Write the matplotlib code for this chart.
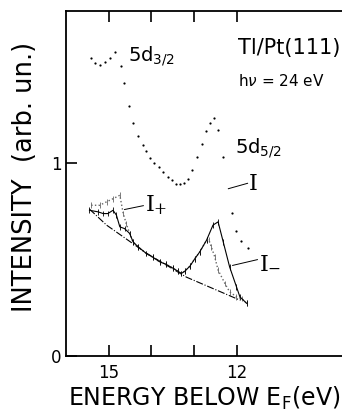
import matplotlib
matplotlib.use("Agg")
import matplotlib.pyplot as plt

plt.rcParams['font.family'] = ['DejaVu Sans']

# total intensity I (dotted)
e_total = [15.42, 15.33, 15.21, 15.09, 14.98, 14.86, 14.72, 14.65, 14.53, 14.44,
           14.32, 14.20, 14.13, 14.04, 13.95, 13.83, 13.74, 13.62, 13.52, 13.43,
           13.34, 13.24, 13.15, 13.06, 12.94, 12.82, 12.73, 12.63, 12.54, 12.45,
           12.33, 12.12, 12.03, 11.91, 11.74]
i_total = [1.544, 1.518, 1.508, 1.523, 1.544, 1.575, 1.503, 1.415, 1.295, 1.207,
           1.140, 1.093, 1.062, 1.026, 1.000, 0.979, 0.953, 0.927, 0.912, 0.891,
           0.891, 0.896, 0.917, 0.964, 1.034, 1.098, 1.166, 1.207, 1.233, 1.171,
           1.031, 0.741, 0.648, 0.596, 0.560]

# I_minus (solid)
e_minus = [15.45, 15.25, 15.13, 15.02, 14.90, 14.82, 14.74, 14.63, 14.51, 14.43,
           14.31, 14.12, 13.97, 13.81, 13.67, 13.50, 13.38, 13.30, 13.22, 13.10,
           12.99, 12.87, 12.71, 12.56, 12.44, 12.32, 12.17, 12.01, 11.93, 11.77]
i_minus = [0.756, 0.748, 0.739, 0.739, 0.756, 0.731, 0.670, 0.661, 0.636, 0.592,
           0.566, 0.532, 0.513, 0.489, 0.477, 0.456, 0.440, 0.428, 0.440, 0.466,
           0.503, 0.540, 0.601, 0.679, 0.696, 0.592, 0.462, 0.359, 0.307, 0.273]

# I_plus (dotted grey)
e_plus = [15.41, 15.21, 15.05, 14.90, 14.74, 14.66, 14.59, 14.51, 14.43, 14.31,
          14.12, 13.97, 13.81, 13.67, 13.50, 13.38, 13.30, 13.22, 13.10, 12.99,
          12.87, 12.71, 12.66, 12.60, 12.52, 12.44, 12.28, 12.17, 12.01, 11.89, 11.77]
i_plus = [0.782, 0.782, 0.800, 0.816, 0.834, 0.739, 0.687, 0.636, 0.592, 0.566,
          0.532, 0.513, 0.489, 0.477, 0.456, 0.440, 0.428, 0.440, 0.466, 0.503,
          0.540, 0.601, 0.605, 0.567, 0.515, 0.446, 0.376, 0.333, 0.307, 0.298, 0.273]

# background (dash-dot)
e_bg = [15.45, 15.05, 14.12, 13.18, 11.93]
i_bg = [0.762, 0.679, 0.534, 0.409, 0.290]

fig = plt.figure(figsize=(3.42, 4.2), dpi=100)
ax = fig.add_axes([66 / 342, 1 - 356 / 420, 1 - 66 / 342, (356 - 11) / 420])

ax.plot(e_total, i_total, 'o', ms=1.6, color='black', mec='none')
ax.errorbar(e_plus, i_plus, yerr=0.015, fmt=':', color='#666666', lw=1.0,
            elinewidth=0.6, capsize=0)
ax.errorbar(e_minus, i_minus, yerr=0.015, fmt='-', color='black', lw=0.8,
            elinewidth=0.6, capsize=0)
ax.plot(e_bg, i_bg, '-.', color='black', lw=0.8)

ax.set_xlim(16.0, 9.54)
ax.set_ylim(0, 1.79)
ax.set_xticks([15, 14, 13, 12])
ax.set_xticklabels(['15', '', '', '12'])
ax.set_yticks([0, 1])
ax.set_yticklabels(['0', '1'])
ax.tick_params(direction='in', length=8, width=1.2, labelsize=12, top=True,
               color='black')
ax.tick_params(axis='x', pad=6)
ax.tick_params(axis='y', pad=3)
ax.spines['right'].set_visible(False)
for s in ['left', 'top', 'bottom']:
    ax.spines[s].set_linewidth(1.3)

ax.set_xlabel(r'ENERGY BELOW E$_\mathregular{F}$(eV)', fontsize=17, labelpad=2)
ax.set_ylabel('INTENSITY  (arb. un.)', fontsize=18.5)
ax.yaxis.set_label_coords(-0.10, 0.52)

ax.text(14.55, 1.555, r'5d$_\mathregular{3/2}$', fontsize=14, ha='left', va='center')
ax.text(12.05, 1.08, r'5d$_\mathregular{5/2}$', fontsize=14, ha='left', va='center')
ax.text(11.98, 1.60, 'Tl/Pt(111)', fontsize=15, ha='left', va='center')
ax.text(11.98, 1.425, r'h$\nu$ = 24 eV', fontsize=11, ha='left', va='center')

ax.plot([12.2, 11.75], [0.868, 0.896], color='black', lw=0.7)
ax.text(11.72, 0.89, 'I', fontsize=16, family='DejaVu Serif', ha='left', va='center')
ax.plot([14.63, 14.19], [0.76, 0.78], color='black', lw=0.7)
ax.text(14.16, 0.78, r'I$_\mathregular{+}$', fontsize=16, family='DejaVu Serif',
        ha='left', va='center')
ax.plot([12.1, 11.52], [0.47, 0.50], color='black', lw=0.7)
ax.text(11.48, 0.49, r'I$_\mathregular{-}$', fontsize=16, family='DejaVu Serif',
        ha='left', va='center')

fig.savefig('out.png', dpi=100)
